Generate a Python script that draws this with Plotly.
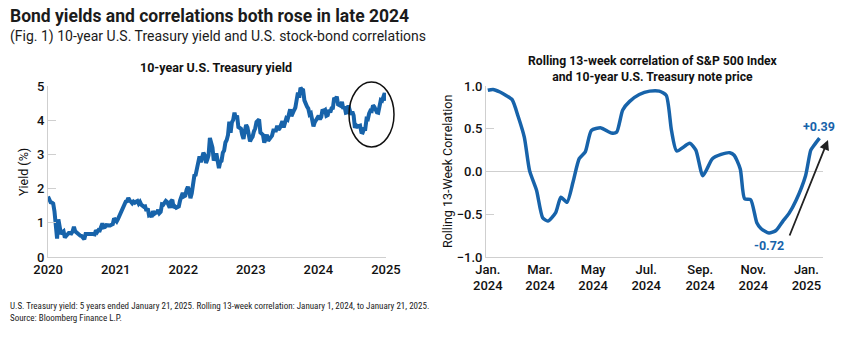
import pandas as pd
import plotly.graph_objects as go

# ---------------- data ----------------
# 10-year U.S. Treasury yield, weekly readings, Jan 21 2020 -> Jan 21 2025
yield_2020 = [1.77, 1.65, 1.60, 1.59, 1.56, 1.33, 1.00, 0.54, 1.10, 0.82, 0.67, 0.72, 0.75, 0.57, 0.62,
              0.66, 0.70, 0.70, 0.69, 0.75, 0.88, 0.75, 0.71, 0.66, 0.65, 0.62, 0.61, 0.58, 0.52, 0.67,
              0.67, 0.69, 0.68, 0.68, 0.68, 0.67, 0.66, 0.78, 0.73, 0.79, 0.78, 0.88, 0.98, 0.87, 0.88,
              0.93, 0.92, 0.92, 0.92, 0.94]
yield_2021 = [0.96, 1.13, 1.09, 1.04, 1.11, 1.19, 1.30, 1.37, 1.42, 1.54, 1.62, 1.63, 1.73, 1.66, 1.62,
              1.57, 1.62, 1.59, 1.62, 1.64, 1.56, 1.61, 1.53, 1.50, 1.47, 1.48, 1.35, 1.42, 1.22, 1.24,
              1.17, 1.34, 1.26, 1.29, 1.31, 1.37, 1.28, 1.32, 1.54, 1.53, 1.58, 1.64, 1.61, 1.55, 1.44,
              1.63, 1.67, 1.44, 1.48, 1.44, 1.48, 1.48]
yield_2022 = [1.66, 1.74, 1.87, 1.77, 1.79, 1.96, 2.05, 1.94, 1.72, 1.86, 2.15, 2.38, 2.40, 2.55, 2.72,
              2.94, 2.77, 2.97, 3.05, 2.98, 2.75, 2.85, 2.98, 3.48, 3.28, 3.20, 2.82, 2.96, 3.03, 2.81,
              2.60, 2.78, 2.81, 3.05, 3.11, 3.35, 3.42, 3.57, 3.96, 3.63, 3.94, 4.01, 4.22, 4.05, 4.14,
              3.80, 3.76, 3.75, 3.57, 3.45, 3.69, 3.86]
yield_2023 = [3.79, 3.61, 3.38, 3.46, 3.52, 3.67, 3.76, 3.95, 4.00, 4.02, 3.64, 3.60, 3.57, 3.34, 3.43,
              3.58, 3.40, 3.44, 3.52, 3.55, 3.70, 3.69, 3.70, 3.84, 3.72, 3.77, 3.86, 3.97, 3.79, 3.89,
              4.05, 4.02, 4.22, 4.32, 4.12, 4.26, 4.29, 4.37, 4.56, 4.81, 4.66, 4.95, 4.90, 4.88, 4.58,
              4.45, 4.40, 4.34, 4.17, 4.20, 3.93, 3.82]
yield_2024 = [3.94, 4.02, 4.06, 4.13, 4.03, 4.09, 4.31, 4.27, 4.30, 4.13, 4.15, 4.30, 4.23, 4.35, 4.36,
              4.66, 4.60, 4.69, 4.46, 4.45, 4.42, 4.54, 4.33, 4.40, 4.22, 4.23, 4.43, 4.30, 4.16, 4.25,
              4.14, 3.78, 3.85, 3.81, 3.83, 3.84, 3.65, 3.64, 3.74, 3.74, 4.04, 4.03, 4.20, 4.28, 4.27,
              4.43, 4.39, 4.27, 4.23, 4.22, 4.40, 4.59, 4.57]
yield_2025 = [4.68, 4.79, 4.57]
yield_vals = yield_2020 + yield_2021 + yield_2022 + yield_2023 + yield_2024 + yield_2025
yield_start, yield_end = "2020-01-21", "2025-01-21"
yield_ticks = ["2020-01-21", "2021-01-21", "2022-01-21", "2023-01-21", "2024-01-21", "2025-01-21"]
yield_ticktext = ["2020", "2021", "2022", "2023", "2024", "2025"]

# Rolling 13-week correlation of S&P 500 and 10-year Treasury note price
corr_dates = ["2024-01-01", "2024-01-07", "2024-01-15", "2024-01-22", "2024-01-29", "2024-02-05",
              "2024-02-12", "2024-02-18", "2024-02-26", "2024-03-04", "2024-03-10", "2024-03-19",
              "2024-03-25", "2024-04-01", "2024-04-08", "2024-04-15", "2024-04-22", "2024-04-29",
              "2024-05-10", "2024-05-22", "2024-05-28", "2024-06-04", "2024-06-12", "2024-06-23",
              "2024-07-05", "2024-07-16", "2024-07-24", "2024-07-30", "2024-08-05", "2024-08-20",
              "2024-08-27", "2024-09-04", "2024-09-15", "2024-09-25", "2024-10-05", "2024-10-10",
              "2024-10-17", "2024-10-22", "2024-10-29", "2024-11-05", "2024-11-10", "2024-11-19",
              "2024-11-27", "2024-12-05", "2024-12-12", "2024-12-20", "2024-12-31", "2025-01-06",
              "2025-01-10", "2025-01-16"]
corr_vals = [0.95, 0.96, 0.93, 0.89, 0.84, 0.64, 0.40, 0.01, -0.22, -0.54, -0.58, -0.48, -0.30,
             -0.36, -0.12, 0.15, 0.23, 0.48, 0.51, 0.45, 0.46, 0.72, 0.82, 0.90, 0.94, 0.94, 0.89,
             0.48, 0.24, 0.33, 0.25, -0.05, 0.15, 0.20, 0.22, 0.19, 0.03, -0.32, -0.33, -0.60, -0.67,
             -0.72, -0.69, -0.58, -0.49, -0.34, -0.05, 0.25, 0.31, 0.39]
corr_ticks = ["2024-01-01", "2024-03-01", "2024-05-01", "2024-07-01", "2024-09-01", "2024-11-01", "2025-01-01"]
corr_ticktext = ["Jan.<br>2024", "Mar.<br>2024", "May<br>2024", "Jul.<br>2024", "Sep.<br>2024",
                 "Nov.<br>2024", "Jan.<br>2025"]

# ---------------- figure ----------------
BLUE = "#1763aa"
GRID = "#cfcfcf"
TXT = "#111111"
FONT = "Roboto, 'Open Sans', sans-serif"
NARROW = "'Roboto Condensed', 'Liberation Sans Narrow', 'Arial Narrow', Roboto, sans-serif"

yield_x = pd.date_range(yield_start, yield_end, periods=len(yield_vals))

fig = go.Figure()
fig.add_trace(go.Scatter(x=yield_x, y=yield_vals, mode="lines",
                         line=dict(color=BLUE, width=4), xaxis="x", yaxis="y",
                         hoverinfo="skip"))
fig.add_trace(go.Scatter(x=pd.to_datetime(corr_dates), y=corr_vals, mode="lines",
                         line=dict(color=BLUE, width=3.5, shape="spline", smoothing=0.6),
                         xaxis="x2", yaxis="y2", hoverinfo="skip"))

ydom = [0.2374, 0.7448]
axis_common = dict(showline=True, linecolor=GRID, linewidth=1, showgrid=False, automargin=False,
                   tickfont=dict(family=FONT, size=13, color=TXT, weight=500))

fig.update_layout(
    width=853, height=337,
    margin=dict(l=0, r=0, t=0, b=0),
    paper_bgcolor="white", plot_bgcolor="white",
    showlegend=False,
    font=dict(family=FONT, color=TXT),
    xaxis=dict(domain=[0.0563, 0.4525], type="date", range=[yield_start, yield_end],
               tickmode="array", tickvals=yield_ticks, ticktext=yield_ticktext,
               ticks="", zeroline=False, anchor="y", **axis_common),
    yaxis=dict(domain=ydom, range=[0, 5], dtick=1, ticks="inside", ticklen=8,
               tickcolor=GRID, zeroline=False, anchor="x", **axis_common),
    xaxis2=dict(domain=[0.5698, 0.9648], type="date", range=["2023-12-30", "2025-01-20"],
                tickmode="array", tickvals=corr_ticks, ticktext=corr_ticktext,
                ticks="", zeroline=False, anchor="y2", **axis_common),
    yaxis2=dict(domain=ydom, range=[-1, 1], dtick=0.5, tickformat=".1f", ticks="inside",
                ticklen=8, tickcolor=GRID, zeroline=True, zerolinecolor=GRID, zerolinewidth=1,
                anchor="x2", **axis_common),
)

annotations = [
    dict(text="<b>Bond yields and correlations both rose in late 2024</b>", x=8 / 853, y=1 - 16 / 337,
         xref="paper", yref="paper", xanchor="left", yanchor="middle", showarrow=False,
         font=dict(family=FONT, size=17.5, color="#1b1b1b")),
    dict(text="(Fig. 1) 10-year U.S. Treasury yield and U.S. stock-bond correlations", x=8 / 853,
         y=1 - 36 / 337, xref="paper", yref="paper", xanchor="left", yanchor="middle",
         showarrow=False, font=dict(family=FONT, size=14, color="#1b1b1b")),
    dict(text="<b>10-year U.S. Treasury yield</b>", x=216 / 853, y=1 - 68 / 337, xref="paper",
         yref="paper", xanchor="center", yanchor="middle", showarrow=False,
         font=dict(family=FONT, size=12.5, color=TXT)),
    dict(text="<b>Rolling 13-week correlation of S&P 500 Index<br>and 10-year U.S. Treasury note price</b>",
         x=653 / 853, y=1 - 69 / 337, xref="paper", yref="paper", xanchor="center", yanchor="middle",
         showarrow=False, font=dict(family=FONT, size=12.2, color=TXT)),
    dict(text="Yield (%)", x=23 / 853, y=1 - 172 / 337, xref="paper", yref="paper", textangle=-90,
         xanchor="center", yanchor="middle", showarrow=False, font=dict(family=FONT, size=12.5, color=TXT)),
    dict(text="Rolling 13-Week Correlation", x=447 / 853, y=1 - 172 / 337, xref="paper", yref="paper",
         textangle=-90, xanchor="center", yanchor="middle", showarrow=False,
         font=dict(family=FONT, size=12.5, color=TXT)),
    dict(text="<b>+0.39</b>", x=corr_dates[-1], y=corr_vals[-1], xref="x2", yref="y2",
         xanchor="center", yanchor="bottom", yshift=2, showarrow=False,
         font=dict(family=FONT, size=12.5, color=BLUE)),
    dict(text="<b>-0.72</b>", x=corr_dates[corr_vals.index(min(corr_vals))], y=min(corr_vals),
         xref="x2", yref="y2", xanchor="center", yanchor="top", yshift=-3, showarrow=False,
         font=dict(family=FONT, size=12.5, color=BLUE)),
    dict(text="", x=828 / 853, y=1 - 140 / 337, xref="paper", yref="paper", ax=-39, ay=97,
         axref="pixel", ayref="pixel", showarrow=True, arrowhead=2, arrowsize=1.1, arrowwidth=1.8,
         arrowcolor="#222222"),
    dict(text="U.S. Treasury yield: 5 years ended January 21, 2025. Rolling 13-week correlation: "
              "January 1, 2024, to January 21, 2025.<br>Source: Bloomberg Finance L.P.",
         x=8 / 853, y=1 - 299 / 337, xref="paper", yref="paper", xanchor="left", yanchor="top",
         align="left", showarrow=False, font=dict(family=NARROW, size=9, color="#1b1b1b")),
]
fig.update_layout(annotations=annotations)

fig.add_shape(type="circle", xref="paper", yref="paper", x0=349 / 853, x1=394 / 853,
              y0=1 - 147 / 337, y1=1 - 82 / 337, line=dict(color="#111111", width=1.5))

fig.write_html("out.html")
